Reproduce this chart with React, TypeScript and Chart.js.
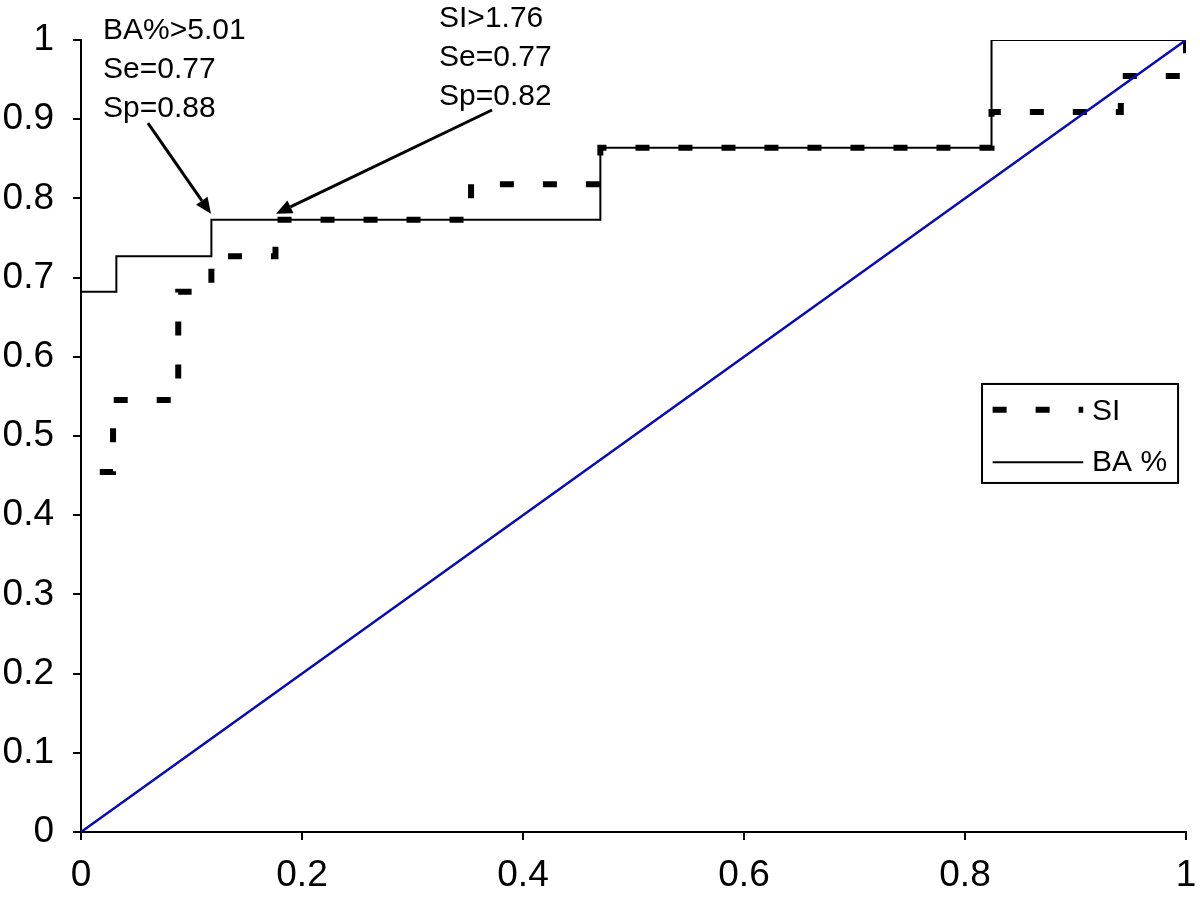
import React, { useEffect, useRef } from "react";
import { Chart, registerables } from "chart.js";

Chart.register(...registerables);

// ---- Data ----
const baX = [0, 0.032, 0.118, 0.47, 0.824, 1];
const baY = [0.682, 0.727, 0.773, 0.864, 1, 1];

const siX = [0.017, 0.029, 0.088, 0.118, 0.176, 0.353, 0.47, 0.824, 0.941, 1];
const siY = [0.4545, 0.5455, 0.682, 0.727, 0.773, 0.818, 0.864, 0.909, 0.9545, 1];

const diagX = [0, 1];
const diagY = [0, 1];

const xTicks = [0, 0.2, 0.4, 0.6, 0.8, 1];
const yTicks = [0, 0.1, 0.2, 0.3, 0.4, 0.5, 0.6, 0.7, 0.8, 0.9, 1];

const seriesNames = ["SI", "BA %"];

// annotations (data coordinates)
const baText = ["BA%>5.01", "Se=0.77", "Sp=0.88"];
const baTextAt = [0.0199, 1.0114];
const siText = ["SI>1.76", "Se=0.77", "Sp=0.82"];
const siTextAt = [0.324, 1.027];
const arrowFrom = [
  [0.0606, 0.895],
  [0.372, 0.9116],
];
const arrowTo = [
  [0.1176, 0.7805],
  [0.1765, 0.7805],
];

const FONT = '"Liberation Sans", Arial, Helvetica, sans-serif';

const toPts = (xs: number[], ys: number[]) => xs.map((x, i) => ({ x, y: ys[i] }));

const annotPlugin = {
  id: "annot",
  afterDraw(chart: any) {
    const ctx = chart.ctx as CanvasRenderingContext2D;
    const xs = chart.scales.x;
    const ys = chart.scales.y;
    const px = (v: number) => xs.getPixelForValue(v);
    const py = (v: number) => ys.getPixelForValue(v);
    ctx.save();
    ctx.fillStyle = "#000";
    ctx.font = `30px ${FONT}`;
    ctx.textAlign = "left";
    ctx.textBaseline = "middle";
    const drawLines = (lines: string[], at: number[]) => {
      lines.forEach((t, i) => ctx.fillText(t, px(at[0]), py(at[1]) + i * 39));
    };
    drawLines(baText, baTextAt);
    drawLines(siText, siTextAt);

    // arrows
    ctx.strokeStyle = "#000";
    ctx.lineWidth = 3;
    arrowFrom.forEach((f, i) => {
      const x0 = px(f[0]);
      const y0 = py(f[1]);
      const x1 = px(arrowTo[i][0]);
      const y1 = py(arrowTo[i][1]);
      const ang = Math.atan2(y1 - y0, x1 - x0);
      const hl = 16;
      const hw = 7;
      const bx = x1 - hl * Math.cos(ang);
      const by = y1 - hl * Math.sin(ang);
      ctx.beginPath();
      ctx.moveTo(x0, y0);
      ctx.lineTo(bx, by);
      ctx.stroke();
      ctx.beginPath();
      ctx.moveTo(x1, y1);
      ctx.lineTo(bx + hw * Math.sin(ang), by - hw * Math.cos(ang));
      ctx.lineTo(bx - hw * Math.sin(ang), by + hw * Math.cos(ang));
      ctx.closePath();
      ctx.fill();
    });

    // legend
    const lx0 = px(0.8154);
    const lx1 = px(0.9928);
    const ly0 = py(0.5657);
    const ly1 = py(0.4407);
    ctx.lineWidth = 2;
    ctx.strokeRect(lx0, ly0, lx1 - lx0, ly1 - ly0);
    const sx0 = px(0.825);
    const sx1 = px(0.907);
    const tx = px(0.915);
    const r1 = py(0.533);
    const r2 = py(0.467);
    ctx.lineWidth = 6;
    ctx.lineCap = "butt";
    ctx.setLineDash([14, 29]);
    ctx.beginPath();
    ctx.moveTo(sx0, r1);
    ctx.lineTo(sx1, r1);
    ctx.stroke();
    ctx.setLineDash([]);
    ctx.lineWidth = 2;
    ctx.beginPath();
    ctx.moveTo(sx0, r2);
    ctx.lineTo(sx1, r2);
    ctx.stroke();
    ctx.font = `30px ${FONT}`;
    ctx.fillText(seriesNames[0], tx, r1 + 2);
    ctx.fillText(seriesNames[1], tx, r2 + 1);
    ctx.restore();
  },
};

export default function App() {
  const ref = useRef<HTMLCanvasElement>(null);
  useEffect(() => {
    document.body.style.margin = "0";
    const canvas = ref.current!;
    const chart = new Chart(canvas, {
      type: "scatter",
      data: {
        datasets: [
          {
            label: seriesNames[0],
            data: toPts(siX, siY),
            showLine: true,
            stepped: "before",
            borderColor: "#000",
            borderWidth: 6,
            borderDash: [14, 29],
            borderCapStyle: "butt",
            pointRadius: 0,
            fill: false,
            order: 2,
          },
          {
            label: seriesNames[1],
            data: toPts(baX, baY),
            showLine: true,
            stepped: "before",
            borderColor: "#000",
            borderWidth: 2,
            pointRadius: 0,
            fill: false,
            order: 1,
          },
          {
            label: "diag",
            data: toPts(diagX, diagY),
            showLine: true,
            borderColor: "#0a0ab4",
            borderWidth: 2.5,
            pointRadius: 0,
            fill: false,
            order: 0,
          },
        ],
      } as any,
      options: {
        responsive: false,
        animation: false,
        layout: { padding: { top: 40, right: 14, left: 0, bottom: 0 } },
        plugins: { legend: { display: false }, tooltip: { enabled: false } },
        scales: {
          x: {
            type: "linear",
            min: 0,
            max: 1,
            afterFit: (s: any) => {
              s.height = 65;
              s.paddingLeft = 0;
              s.paddingRight = 0;
            },
            afterBuildTicks: (s: any) => {
              s.ticks = xTicks.map((v) => ({ value: v }));
            },
            ticks: {
              color: "#000",
              font: { size: 37, family: FONT },
              padding: 14,
              maxRotation: 0,
              autoSkip: false,
              callback: (v: any) => String(Number(Number(v).toFixed(1))),
            },
            grid: {
              drawOnChartArea: false,
              drawTicks: true,
              tickLength: 8,
              color: "#000",
              lineWidth: 2,
            },
            border: { color: "#000", width: 2 },
          },
          y: {
            type: "linear",
            min: 0,
            max: 1,
            afterFit: (s: any) => {
              s.width = 81;
              s.paddingTop = 0;
              s.paddingBottom = 0;
            },
            afterBuildTicks: (s: any) => {
              s.ticks = yTicks.map((v) => ({ value: v }));
            },
            ticks: {
              color: "#000",
              font: { size: 37, family: FONT },
              padding: 19,
              autoSkip: false,
              callback: (v: any) => String(Number(Number(v).toFixed(1))),
            },
            grid: {
              drawOnChartArea: false,
              drawTicks: true,
              tickLength: 8,
              color: "#000",
              lineWidth: 2,
            },
            border: { color: "#000", width: 2 },
          },
        },
      } as any,
      plugins: [annotPlugin],
    });
    return () => chart.destroy();
  }, []);
  return (
    <div style={{ width: 1200, height: 897, background: "#fff" }}>
      <canvas ref={ref} width={1200} height={897} style={{ display: "block" }} />
    </div>
  );
}
